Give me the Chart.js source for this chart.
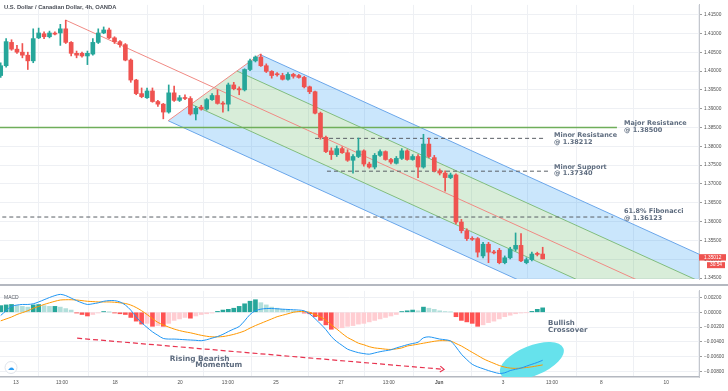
<!DOCTYPE html>
<html>
<head>
<meta charset="utf-8">
<title>USD/CAD 4h</title>
<script src="https://cdn.jsdelivr.net/npm/chart.js@4.4.1/dist/chart.umd.min.js"></script>
<style>
  html, body { margin: 0; padding: 0; background: #ffffff; }
  #wrap { position: relative; width: 728px; height: 391px; overflow: hidden; }
  #pricePane { position: absolute; left: 0; top: 0; width: 728px; height: 284px; }
  #macdPane { position: absolute; left: 0; top: 286px; width: 728px; height: 105px; }
  #divider { position: absolute; left: 0; top: 284px; width: 728px; height: 2px; background: #b4b8c0; }
</style>
</head>
<body>
<div id="wrap">
  <div id="pricePane"><canvas id="priceChart"></canvas></div>
  <div id="divider"></div>
  <div id="macdPane"><canvas id="macdChart"></canvas></div>
</div>
<script>
// candles, one per 4h bar (x = bar index)
const open = [1.3988,1.4014,1.4076,1.4058,1.4050,1.4042,1.4027,1.4088,1.4099,1.4091,
  1.4099,1.4101,1.4112,1.4076,1.4047,1.4047,1.4040,1.4045,1.4076,1.4101,
  1.4109,1.4088,1.4078,1.4070,1.4029,1.3976,1.3940,1.3929,1.3947,1.3919,
  1.3912,1.3891,1.3942,1.3922,1.3929,1.3927,1.3886,1.3904,1.3899,1.3924,
  1.3935,1.3914,1.3912,1.3963,1.3953,1.3950,1.4004,1.4027,1.4037,1.4014,
  1.3999,1.3991,1.3988,1.3978,1.3991,1.3988,1.3983,1.3958,1.3945,1.3888,
  1.3824,1.3788,1.3778,1.3794,1.3783,1.3763,1.3773,1.3788,1.3753,1.3745,
  1.3776,1.3786,1.3765,1.3755,1.3768,1.3788,1.3765,1.3773,1.3745,1.3806,
  1.3770,1.3735,1.3729,1.3717,1.3724,1.3599,1.3576,1.3555,1.3555,1.3509,
  1.3540,1.3519,1.3524,1.3491,1.3504,1.3527,1.3537,1.3491,1.3499,1.3514,
  1.3514];
const high = [1.4022,1.4086,1.4083,1.4068,1.4073,1.4050,1.4112,1.4114,1.4104,1.4106,
  1.4104,1.4124,1.4135,1.4078,1.4053,1.4050,1.4053,1.4086,1.4112,1.4117,
  1.4114,1.4091,1.4081,1.4073,1.4032,1.3978,1.3955,1.3955,1.3955,1.3922,
  1.3914,1.3963,1.3960,1.3935,1.3937,1.3932,1.3906,1.3909,1.3927,1.3940,
  1.3950,1.3919,1.3968,1.3970,1.3958,1.4006,1.4032,1.4040,1.4045,1.4019,
  1.4001,1.3996,1.3994,1.3996,1.3994,1.3991,1.3986,1.3960,1.3947,1.3891,
  1.3827,1.3796,1.3801,1.3799,1.3791,1.3778,1.3822,1.3791,1.3758,1.3781,
  1.3791,1.3788,1.3768,1.3773,1.3794,1.3791,1.3778,1.3778,1.3832,1.3822,
  1.3776,1.3740,1.3735,1.3729,1.3727,1.3606,1.3581,1.3560,1.3558,1.3545,
  1.3545,1.3524,1.3529,1.3509,1.3532,1.3570,1.3568,1.3504,1.3519,1.3519,
  1.3532];
const low = [1.3983,1.4010,1.4055,1.4047,1.4035,1.4004,1.4022,1.4086,1.4086,1.4088,
  1.4096,1.4068,1.4073,1.4040,1.4035,1.4037,1.4017,1.4042,1.4073,1.4099,
  1.4086,1.4073,1.4063,1.4027,1.3970,1.3937,1.3929,1.3927,1.3917,1.3906,
  1.3873,1.3888,1.3919,1.3919,1.3924,1.3883,1.3870,1.3896,1.3896,1.3922,
  1.3912,1.3891,1.3894,1.3950,1.3937,1.3947,1.4001,1.4024,1.4012,1.3996,
  1.3981,1.3986,1.3976,1.3976,1.3981,1.3981,1.3955,1.3940,1.3886,1.3819,
  1.3783,1.3765,1.3773,1.3781,1.3760,1.3729,1.3770,1.3747,1.3742,1.3740,
  1.3773,1.3763,1.3753,1.3753,1.3765,1.3763,1.3763,1.3717,1.3742,1.3770,
  1.3732,1.3724,1.3681,1.3714,1.3594,1.3570,1.3550,1.3550,1.3506,1.3504,
  1.3491,1.3514,1.3488,1.3488,1.3501,1.3522,1.3494,1.3488,1.3496,1.3509,
  1.3501];
const close = [1.4014,1.4078,1.4058,1.4050,1.4042,1.4027,1.4086,1.4101,1.4091,1.4101,
  1.4098,1.4112,1.4076,1.4047,1.4042,1.4040,1.4047,1.4076,1.4101,1.4109,
  1.4088,1.4078,1.4070,1.4029,1.3976,1.3940,1.3932,1.3947,1.3919,1.3912,
  1.3891,1.3942,1.3922,1.3929,1.3927,1.3886,1.3901,1.3899,1.3924,1.3935,
  1.3914,1.3912,1.3963,1.3953,1.3950,1.4004,1.4027,1.4037,1.4014,1.3999,
  1.3988,1.3990,1.3978,1.3991,1.3986,1.3983,1.3958,1.3945,1.3888,1.3824,
  1.3786,1.3778,1.3794,1.3783,1.3763,1.3773,1.3788,1.3753,1.3745,1.3776,
  1.3786,1.3765,1.3758,1.3768,1.3788,1.3765,1.3773,1.3745,1.3806,1.3773,
  1.3735,1.3729,1.3717,1.3724,1.3599,1.3576,1.3555,1.3553,1.3519,1.3540,
  1.3519,1.3517,1.3491,1.3504,1.3527,1.3537,1.3496,1.3499,1.3514,1.3513,
  1.35012];

// MACD pane
const macdLine = [-0.00043,0.00021,0.00080,0.00098,0.00106,0.00106,0.00115,0.00140,0.00170,0.00200,
  0.00226,0.00243,0.00226,0.00192,0.00158,0.00128,0.00106,0.00115,0.00128,0.00149,
  0.00158,0.00158,0.00140,0.00098,0.00029,-0.00064,-0.00141,-0.00205,-0.00265,-0.00312,
  -0.00355,-0.00363,-0.00363,-0.00367,-0.00372,-0.00376,-0.00380,-0.00385,-0.00372,-0.00350,
  -0.00329,-0.00299,-0.00261,-0.00227,-0.00193,-0.00116,-0.00030,0.00021,0.00042,0.00051,
  0.00051,0.00047,0.00042,0.00038,0.00034,0.00030,0.00020,-0.00022,-0.00086,-0.00158,
  -0.00235,-0.00329,-0.00397,-0.00449,-0.00500,-0.00526,-0.00547,-0.00560,-0.00568,-0.00551,
  -0.00534,-0.00521,-0.00509,-0.00483,-0.00462,-0.00440,-0.00423,-0.00406,-0.00346,-0.00333,
  -0.00346,-0.00363,-0.00372,-0.00389,-0.00470,-0.00568,-0.00641,-0.00705,-0.00739,-0.00765,
  -0.00790,-0.00812,-0.00829,-0.00820,-0.00790,-0.00773,-0.00756,-0.00730,-0.00705,-0.00680,
  -0.00650];
const signalLine = [-0.00116,-0.00090,-0.00064,-0.00030,-0.00005,0.00021,0.00055,0.00080,0.00106,0.00128,
  0.00149,0.00166,0.00170,0.00170,0.00166,0.00158,0.00149,0.00145,0.00140,0.00140,
  0.00140,0.00136,0.00128,0.00119,0.00098,0.00064,0.00021,-0.00030,-0.00086,-0.00137,
  -0.00171,-0.00201,-0.00227,-0.00248,-0.00265,-0.00278,-0.00295,-0.00312,-0.00325,-0.00333,
  -0.00333,-0.00329,-0.00316,-0.00299,-0.00278,-0.00252,-0.00214,-0.00180,-0.00150,-0.00120,
  -0.00090,-0.00060,-0.00040,-0.00020,0.00000,0.00010,0.00010,0.00000,-0.00030,-0.00064,
  -0.00107,-0.00171,-0.00227,-0.00287,-0.00342,-0.00380,-0.00419,-0.00440,-0.00466,-0.00483,
  -0.00491,-0.00500,-0.00504,-0.00496,-0.00483,-0.00457,-0.00445,-0.00432,-0.00419,-0.00406,
  -0.00393,-0.00385,-0.00385,-0.00389,-0.00423,-0.00457,-0.00500,-0.00543,-0.00585,-0.00628,
  -0.00662,-0.00692,-0.00722,-0.00743,-0.00756,-0.00760,-0.00756,-0.00748,-0.00739,-0.00726,
  -0.00713];
const histogram = [0.00090,0.00100,0.00106,0.00090,0.00080,0.00070,0.00100,0.00105,0.00090,0.00080,
  0.00080,0.00070,0.00050,0.00030,-0.00010,-0.00030,-0.00050,-0.00030,-0.00010,0.00010,
  0.00002,-0.00010,-0.00020,-0.00030,-0.00070,-0.00120,-0.00160,-0.00150,-0.00190,-0.00180,
  -0.00190,-0.00150,-0.00110,-0.00090,-0.00070,-0.00080,-0.00050,-0.00030,-0.00020,-0.00010,
  0.00012,0.00030,0.00040,0.00055,0.00080,0.00115,0.00150,0.00170,0.00130,0.00100,
  0.00070,0.00055,0.00040,0.00030,0.00020,0.00010,-0.00010,-0.00020,-0.00060,-0.00110,
  -0.00170,-0.00230,-0.00220,-0.00210,-0.00190,-0.00180,-0.00160,-0.00150,-0.00130,-0.00110,
  -0.00090,-0.00070,-0.00050,-0.00030,0.00010,0.00020,0.00030,0.00020,0.00070,0.00055,
  0.00040,0.00020,0.00010,0.00005,-0.00060,-0.00110,-0.00130,-0.00150,-0.00190,-0.00170,
  -0.00140,-0.00120,-0.00090,-0.00060,-0.00040,-0.00020,-0.00010,-0.00005,0.00012,0.00040,
  0.00060];

// axes
const timeTickPos = [2.8, 11.3, 21.1, 33.1, 41.9, 50.8, 62.8, 71.6, 80.9, 92.7, 101.7, 110.8, 122.8];
const timeTickLabels = ['13', '13:00', '18', '20', '13:00', '25', '27', '13:00', 'Jun', '3', '13:00', '8', '10'];
const priceTicks = [1.345, 1.350, 1.355, 1.360, 1.365, 1.370, 1.375, 1.380, 1.385, 1.390, 1.395, 1.400, 1.405, 1.410, 1.415];
const macdTicks = [0.002, 0, -0.002, -0.004, -0.006, -0.008];

// drawings: pitchfork anchors (bar, price)
const pfHandle = [12, 1.4135];
const pfLow = [30.9, 1.3868];
const pfHigh = [47.8, 1.4044];

// horizontal levels
const levelValues = [1.385, 1.38212, 1.3734, 1.36123];
const levelFrom = [-1, 58, 60.2, -1];
const levelTo = [113.7, 100.1, 101, 113];
const levelLabels = [['Major Resistance', '@ 1.38500'], ['Minor Resistance', '@ 1.38212'],
  ['Minor Support', '@ 1.37340'], ['61.8% Fibonacci', '@ 1.36123']];
const levelLabelX = [115, 102.1, 102.1, 115];
const levelLabelY = [1.38602, 1.38295, 1.37449, 1.36269];

// MACD drawings
const arrowFrom = [14.1, -0.00351];
const arrowTo = [81.8, -0.00774];
const crossoverCenter = [98, -0.00659];
const macdNoteText = ['Rising Bearish', 'Momentum', 'Bullish', 'Crossover'];
const macdNoteX = [31.2, 35.9, 101, 101];
const macdNoteY = [-0.00633, -0.00717, -0.00146, -0.00236];

const UP = '#26a69a', DOWN = '#ef5350';
const GRID = '#eef0f4', AXIS_TXT = '#4f4f4f', NOTE_TXT = '#5e6c7f';
const XMIN = -0.13, XMAX = 128.84, XFAR = 140;
const AXIS_W = 29;

Chart.defaults.font.family = "'Liberation Sans', Arial, sans-serif";
Chart.defaults.color = AXIS_TXT;

const idx = close.map((c, i) => i);
const candleColor = close.map((c, i) => c >= open[i] ? UP : DOWN);

// pitchfork geometry from its three anchors
const pfMid = [(pfLow[0] + pfHigh[0]) / 2, (pfLow[1] + pfHigh[1]) / 2];
const pfSlope = (pfMid[1] - pfHandle[1]) / (pfMid[0] - pfHandle[0]);
const tine = (t) => {
  const sx = pfMid[0] + t * (pfHigh[0] - pfMid[0]);
  const sy = pfMid[1] + t * (pfHigh[1] - pfMid[1]);
  return [{x: sx, y: sy}, {x: XFAR, y: sy + pfSlope * (XFAR - sx)}];
};
const zone = (a, b) => [a[0], b[0], b[1], a[1], a[0]];
const tUp1 = tine(1), tUp05 = tine(0.5), tDn05 = tine(-0.5), tDn1 = tine(-1);

const lineDs = (data, color, order, extra) => Object.assign({
  type: 'line', data: data, borderColor: color, borderWidth: 1,
  pointRadius: 0, fill: false, order: order, tension: 0
}, extra || {});

const priceDatasets = [
  {
    type: 'bar', label: 'body', order: 0, barThickness: 4, minBarLength: 1,
    data: idx.map(i => ({x: i, y: [open[i], close[i]]})),
    backgroundColor: candleColor, borderWidth: 0, grouped: false
  },
  {
    type: 'bar', label: 'wick', order: 1, barThickness: 1,
    data: idx.map(i => ({x: i, y: [low[i], high[i]]})),
    backgroundColor: candleColor, borderWidth: 0, grouped: false
  },
  lineDs([{x: levelFrom[0], y: levelValues[0]}, {x: levelTo[0], y: levelValues[0]}], '#6fae5a', 2, {borderWidth: 1.5}),
  lineDs([{x: levelFrom[1], y: levelValues[1]}, {x: levelTo[1], y: levelValues[1]}], '#5a5f66', 2, {borderDash: [4, 3]}),
  lineDs([{x: levelFrom[2], y: levelValues[2]}, {x: levelTo[2], y: levelValues[2]}], '#5a5f66', 2, {borderDash: [4, 3]}),
  lineDs([{x: levelFrom[3], y: levelValues[3]}, {x: levelTo[3], y: levelValues[3]}], '#5a5f66', 2, {borderDash: [4, 3]}),
  lineDs([{x: pfHandle[0], y: pfHandle[1]}, {x: XFAR, y: pfHandle[1] + pfSlope * (XFAR - pfHandle[0])}], '#f08a84', 3),
  lineDs([{x: pfLow[0], y: pfLow[1]}, {x: pfHigh[0], y: pfHigh[1]}], '#f08a84', 3),
  lineDs(tUp1, '#6aa6ea', 3),
  lineDs(tDn1, '#6aa6ea', 3),
  lineDs(tUp05, '#80bd7e', 3),
  lineDs(tDn05, '#80bd7e', 3),
  lineDs(zone(tUp05, tUp1), 'transparent', 4, {borderWidth: 0, fill: 'shape', backgroundColor: 'rgba(33,150,243,0.24)'}),
  lineDs(zone(tDn05, tUp05), 'transparent', 4, {borderWidth: 0, fill: 'shape', backgroundColor: 'rgba(76,175,80,0.22)'}),
  lineDs(zone(tDn1, tDn05), 'transparent', 4, {borderWidth: 0, fill: 'shape', backgroundColor: 'rgba(33,150,243,0.24)'})
];

const priceNotes = {
  id: 'priceNotes',
  afterDatasetsDraw(chart) {
    const {ctx, scales: {x, y}} = chart;
    ctx.save();
    ctx.fillStyle = NOTE_TXT;
    ctx.font = "bold 6.5px 'DejaVu Sans'";
    ctx.textBaseline = 'middle';
    levelLabels.forEach((lines, k) => {
      const px = x.getPixelForValue(levelLabelX[k]);
      const py = y.getPixelForValue(levelLabelY[k]);
      lines.forEach((t, j) => ctx.fillText(t, px, py + j * 6.7));
    });
    ctx.restore();
  },
  afterDraw(chart) {
    const {ctx, chartArea, scales: {y}} = chart;
    ctx.save();
    ctx.fillStyle = '#4a4e57';
    ctx.font = "600 5.8px 'Liberation Sans'";
    ctx.textBaseline = 'middle';
    ctx.fillText('U.S. Dollar / Canadian Dollar, 4h, OANDA', 4, 7);
    const last = close[close.length - 1];
    const py = y.getPixelForValue(last) - 1.5;
    ctx.fillStyle = DOWN;
    ctx.fillRect(chartArea.right, py - 3.2, 27, 6.4);
    ctx.fillRect(chartArea.right + 8, py + 4.8, 18, 6);
    ctx.fillStyle = '#ffffff';
    ctx.font = "4.8px 'Liberation Sans'";
    ctx.fillText(last.toFixed(5), chartArea.right + 5, py);
    ctx.fillText('30:54', chartArea.right + 11, py + 7.8);
    ctx.restore();
  }
};

const xTicks = (scale) => { scale.ticks = timeTickPos.map(v => ({value: v})); };

new Chart(document.getElementById('priceChart'), {
  type: 'bar',
  data: {datasets: priceDatasets},
  options: {
    responsive: true, maintainAspectRatio: false, animation: false, events: [],
    devicePixelRatio: 1,
    layout: {padding: 0, autoPadding: false},
    plugins: {legend: {display: false}, tooltip: {enabled: false}},
    scales: {
      x: {
        type: 'linear', min: XMIN, max: XMAX, offset: false,
        afterBuildTicks: xTicks,
        afterFit: (s) => { s.height = 0; },
        ticks: {display: false},
        grid: {color: GRID, drawTicks: false},
        border: {display: false}
      },
      y: {
        position: 'right', min: 1.34474, max: 1.41756,
        afterBuildTicks: (s) => { s.ticks = priceTicks.map(v => ({value: v})); },
        afterFit: (s) => { s.width = AXIS_W; },
        ticks: {padding: 2, font: {size: 4.8}, color: AXIS_TXT, callback: (v) => v.toFixed(5)},
        grid: {color: GRID, tickLength: 3, tickColor: '#9a9a9a'},
        border: {display: true, color: '#c4c7cd'}
      }
    }
  },
  plugins: [priceNotes]
});

// MACD
const histColor = histogram.map((v, i) => {
  const prev = i ? histogram[i - 1] : v;
  if (v >= 0) return v >= prev ? '#26a69a' : '#b2dfdb';
  return v <= prev ? '#ff5252' : '#ffcdd2';
});

const macdNotes = {
  id: 'macdNotes',
  beforeDatasetsDraw(chart) {
    const {ctx, chartArea, scales: {x, y}} = chart;
    ctx.save();
    ctx.beginPath();
    ctx.rect(chartArea.left, chartArea.top, chartArea.right - chartArea.left, chartArea.bottom - chartArea.top);
    ctx.clip();
    ctx.fillStyle = '#66e2ec';
    ctx.beginPath();
    ctx.ellipse(x.getPixelForValue(crossoverCenter[0]), y.getPixelForValue(crossoverCenter[1]), 34, 15, -22 * Math.PI / 180, 0, Math.PI * 2);
    ctx.fill();
    ctx.restore();
  },
  afterDatasetsDraw(chart) {
    const {ctx, chartArea, scales: {x, y}} = chart;
    ctx.save();
    // arrow head at the end of the dashed line
    const meta = chart.getDatasetMeta(2);
    const p0 = meta.data[0], p1 = meta.data[1];
    const a = Math.atan2(p1.y - p0.y, p1.x - p0.x);
    ctx.strokeStyle = '#e8334f';
    ctx.lineWidth = 1.2;
    ctx.beginPath();
    ctx.moveTo(p1.x + 5 * Math.cos(a + 2.5), p1.y + 5 * Math.sin(a + 2.5));
    ctx.lineTo(p1.x, p1.y);
    ctx.lineTo(p1.x + 5 * Math.cos(a - 2.5), p1.y + 5 * Math.sin(a - 2.5));
    ctx.stroke();

    ctx.fillStyle = NOTE_TXT;
    ctx.textBaseline = 'middle';
    macdNoteText.forEach((t, k) => {
      ctx.font = k < 2 ? "bold 7.4px 'DejaVu Sans'" : "bold 7px 'DejaVu Sans'";
      ctx.fillText(t, x.getPixelForValue(macdNoteX[k]), y.getPixelForValue(macdNoteY[k]));
    });

    ctx.fillStyle = '#555a63';
    ctx.font = "5px 'Liberation Sans'";
    ctx.fillText('MACD', chartArea.left + 4, chartArea.top + 7);

    // platform badge
    const cx = chartArea.left + 11, cy = chartArea.bottom - 9.5;
    ctx.fillStyle = '#ffffff';
    ctx.strokeStyle = '#dfe3ea';
    ctx.lineWidth = 1;
    ctx.beginPath();
    ctx.arc(cx, cy, 6, 0, Math.PI * 2);
    ctx.fill();
    ctx.stroke();
    ctx.fillStyle = '#2a9df4';
    ctx.font = "7px 'DejaVu Sans'";
    ctx.textAlign = 'center';
    ctx.fillText('\u2601', cx, cy + 0.5);
    ctx.restore();
  }
};

new Chart(document.getElementById('macdChart'), {
  type: 'bar',
  data: {
    datasets: [
      {type: 'line', label: 'MACD', order: 0, data: idx.map(i => ({x: i, y: macdLine[i]})),
        borderColor: '#2196f3', borderWidth: 1, pointRadius: 0, tension: 0.3},
      {type: 'line', label: 'Signal', order: 1, data: idx.map(i => ({x: i, y: signalLine[i]})),
        borderColor: '#ff9800', borderWidth: 1, pointRadius: 0, tension: 0.3},
      {type: 'line', label: 'arrow', order: 0,
        data: [{x: arrowFrom[0], y: arrowFrom[1]}, {x: arrowTo[0], y: arrowTo[1]}],
        borderColor: '#e8334f', borderWidth: 1.2, borderDash: [5, 3], pointRadius: 0},
      {type: 'bar', label: 'Histogram', order: 3, barThickness: 4, grouped: false,
        data: idx.map(i => ({x: i, y: histogram[i]})), backgroundColor: histColor, borderWidth: 0}
    ]
  },
  options: {
    responsive: true, maintainAspectRatio: false, animation: false, events: [],
    devicePixelRatio: 1,
    layout: {padding: 0, autoPadding: false},
    plugins: {legend: {display: false}, tooltip: {enabled: false}},
    scales: {
      x: {
        type: 'linear', min: XMIN, max: XMAX, offset: false,
        afterBuildTicks: xTicks,
        afterFit: (s) => { s.height = 14; },
        ticks: {
          autoSkip: false, maxRotation: 0, padding: 3, color: AXIS_TXT,
          font: (c) => ({size: 4.8, weight: c.tick && c.tick.label === 'Jun' ? 'bold' : 'normal'}),
          callback: (v, i) => timeTickLabels[i]
        },
        grid: {color: GRID, drawTicks: false},
        border: {display: true, color: '#b4b8c0', width: 1.5}
      },
      y: {
        position: 'right', min: -0.00877, max: 0.0029,
        afterBuildTicks: (s) => { s.ticks = macdTicks.map(v => ({value: v})); },
        afterFit: (s) => { s.width = AXIS_W; },
        ticks: {padding: 2, font: {size: 4.8}, color: AXIS_TXT,
          callback: (v) => v.toFixed(5).replace('-', '\u2212')},
        grid: {color: GRID, tickLength: 3, tickColor: '#9a9a9a'},
        border: {display: true, color: '#c4c7cd'}
      }
    }
  },
  plugins: [macdNotes]
});
</script>
</body>
</html>
